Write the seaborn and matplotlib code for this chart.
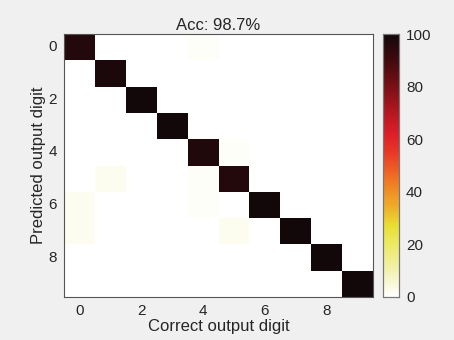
import numpy as np
import pandas as pd
import matplotlib
matplotlib.use("Agg")
import matplotlib.pyplot as plt
from matplotlib.colors import LinearSegmentedColormap
import seaborn as sns

digits = list(range(10))
diag = [96, 98, 100, 100, 97, 96, 100, 100, 100, 100]
# (predicted row, correct column, percent)
off_diag = [(0, 4, 1), (4, 5, 1), (5, 1, 2), (5, 4, 1),
            (6, 0, 2), (6, 4, 1), (7, 0, 2), (7, 5, 2)]
title = "Acc: 98.7%"

mat = np.zeros((10, 10))
for i, v in enumerate(diag):
    mat[i, i] = v
for r, c, v in off_diag:
    mat[r, c] = v
df = pd.DataFrame(mat, index=digits, columns=digits)

stops = [(0.0, (255, 255, 255)), (0.10, (242, 241, 175)), (0.20, (236, 234, 100)),
         (0.27, (232, 222, 50)), (0.35, (238, 170, 40)), (0.45, (240, 115, 35)),
         (0.55, (232, 55, 38)), (0.62, (222, 30, 40)), (0.72, (170, 22, 30)),
         (0.82, (110, 14, 20)), (0.91, (60, 10, 14)), (1.0, (18, 8, 10))]
cmap = LinearSegmentedColormap.from_list(
    "hotish", [(p, tuple(c / 255 for c in rgb)) for p, rgb in stops])

sns.set_style("white")
plt.rcParams['font.family'] = ['Liberation Sans', 'DejaVu Sans']

fig = plt.figure(figsize=(4.54, 3.4), dpi=100, facecolor='#f0f0f0')
ax = fig.add_axes([64/454, 1-297/340, (373-64)/454, (297-34)/340])
cax = fig.add_axes([383/454, 1-297/340, (399-383)/454, (297-34)/340])

sns.heatmap(df, ax=ax, cbar_ax=cax, cmap=cmap, vmin=0, vmax=100,
            cbar_kws={'ticks': [0, 20, 40, 60, 80, 100]})

ticks = [0, 2, 4, 6, 8]
ax.set_xticks([t + 0.5 for t in ticks])
ax.set_xticklabels([str(t) for t in ticks], rotation=0)
ax.set_yticks([t + 0.5 for t in ticks])
ax.set_yticklabels([str(t) for t in ticks], rotation=0)
ax.tick_params(direction='in', length=3, width=0.8, color='#555555', labelsize=11,
               top=True, right=True, bottom=True, left=True, pad=5,
               labelcolor='#262626')
for s in ax.spines.values():
    s.set_visible(True)
    s.set_color('#555555')
    s.set_linewidth(0.8)

ax.set_xlabel("Correct output digit", fontsize=12, color='#262626', labelpad=1)
ax.set_ylabel("Predicted output digit", fontsize=12, color='#262626', labelpad=2)
ax.set_title(title, fontsize=12, color='#262626', pad=3)

cax.tick_params(direction='in', length=3, width=0.8, color='#555555', labelsize=11,
                labelcolor='#262626', pad=5)
for s in cax.spines.values():
    s.set_visible(True)
    s.set_color('#777777')
    s.set_linewidth(0.8)

fig.savefig("out.png", dpi=100, facecolor=fig.get_facecolor())
